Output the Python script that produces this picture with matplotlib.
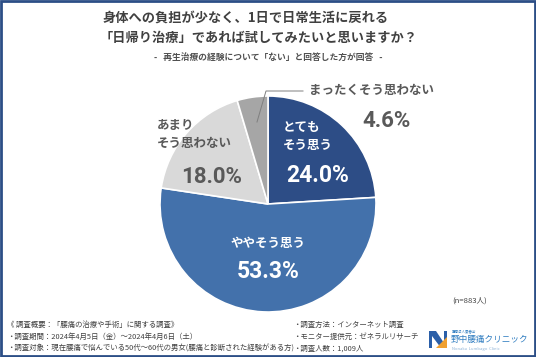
import matplotlib.pyplot as plt
from matplotlib.patches import Rectangle, Polygon

plt.rcParams['font.family'] = ['Noto Sans CJK JP', 'DejaVu Sans']

# data
labels = ['とても\nそう思う', 'ややそう思う', 'あまり\nそう思わない', 'まったくそう思わない']
values = [24.0, 53.3, 18.0, 4.6]
colors = ['#2d4d86', '#4371ab', '#d9d9d9', '#a6a6a6']
n_label = '(n=883人)'

title1 = '身体への負担が少なく、1日で日常生活に戻れる'
title2 = '「日帰り治療」であれば試してみたいと思いますか？'
subtitle = '-   再生治療の経験について「ない」と回答した方が回答   -'
notes_left = ['《 調査概要：「腰痛の治療や手術」に関する調査》',
              '・調査期間：2024年4月5日（金）～2024年4月6日（土）',
              '・調査対象：現在腰痛で悩んでいる50代～60代の男女(腰痛と診断された経験がある方)']
notes_right = ['・調査方法：インターネット調査',
               '・モニター提供元：ゼネラルリサーチ',
               '・調査人数：1,009人']

W, H = 536, 357
fig = plt.figure(figsize=(W / 100, H / 100), dpi=100)

# pie
cx, cy, r = 268, 204, 108
ax = fig.add_axes([(cx - r) / W, (H - cy - r) / H, 2 * r / W, 2 * r / H])
ax.pie(values, colors=colors, startangle=90, counterclock=False,
       wedgeprops=dict(edgecolor='white', linewidth=1.2))
ax.set_xlim(-1, 1)
ax.set_ylim(-1, 1)
ax.axis('off')

# overlay for text, in pixel coordinates
bg = fig.add_axes([0, 0, 1, 1])
bg.set_zorder(5)
bg.patch.set_alpha(0)
bg.set_xlim(0, W)
bg.set_ylim(H, 0)
bg.axis('off')
bg.add_patch(Rectangle((1, 1), W - 2, H - 2, fill=False, ec='#2c4e86', lw=2))

dark = '#595959'
bg.text(103, 18, title1, fontsize=9.5, fontweight='bold', color='#404040', va='center')
bg.text(100, 38, title2, fontsize=9.5, fontweight='bold', color='#404040', va='center')
bg.text(268, 57, subtitle, fontsize=6.3, fontweight='bold', color='#505050', ha='center', va='center')

pct = dict(family=['Roboto', 'DejaVu Sans'], fontweight='bold', fontstretch='condensed')
bg.text(283, 136, labels[0], fontsize=9, fontweight='bold', color='white', va='center', linespacing=1.5)
bg.text(318, 176, f'{values[0]:.1f}%', fontsize=16.5, color='white', ha='center', va='center', **pct)
bg.text(268, 243, labels[1], fontsize=9, fontweight='bold', color='white', ha='center', va='center')
bg.text(268, 271, f'{values[1]:.1f}%', fontsize=16.5, color='white', ha='center', va='center', **pct)
bg.text(157, 134, labels[2], fontsize=9, fontweight='bold', color=dark, va='center', linespacing=1.5)
bg.text(212, 177, f'{values[2]:.1f}%', fontsize=16, color=dark, ha='center', va='center', **pct)
bg.text(309, 90, labels[3], fontsize=9, fontweight='bold', color=dark, va='center')
bg.text(387, 121, f'{values[3]:.1f}%', fontsize=16, color=dark, ha='center', va='center', **pct)
bg.plot([257, 266, 303], [122, 91, 91], color='#7f7f7f', lw=0.7)

bg.text(470, 301, n_label, fontsize=5.5, color='#404040', ha='center', va='center')
for i, s in enumerate(notes_left):
    bg.text(7, 325 + i * 12, s, fontsize=5.35, color='#404040', va='center')
for i, s in enumerate(notes_right):
    bg.text(293, 325 + i * 12, s, fontsize=5.35, color='#404040', va='center')

# logo
bg.add_patch(Polygon([(429, 331), (436, 331), (444, 343), (444, 331), (447, 331), (447, 348), (441, 348), (432, 336), (432, 348), (429, 348)],
                     closed=True, fc='#2b5fa8', ec='none'))
bg.add_patch(Polygon([(436, 348), (447, 337), (447, 348)], closed=True, fc='#f0a030', ec='none'))
bg.text(452, 331, '医療法人慶春会', fontsize=2.5, color='#2e7cc0', va='center')
bg.text(451, 339, '野中腰痛クリニック', fontsize=6.2, color='#2e7cc0', va='center')
bg.text(452, 349, 'Nonaka  Lumbago  Clinic', fontsize=3, color='#8fb4d8', va='center')

fig.savefig('out.png', dpi=100)
